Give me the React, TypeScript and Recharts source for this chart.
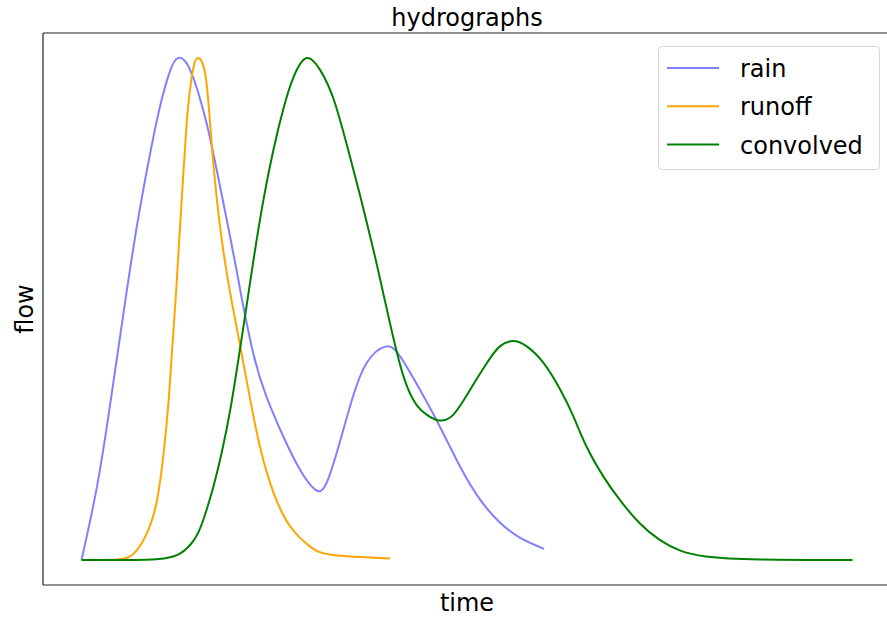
import React from "react"
import { LineChart, Line, XAxis, YAxis } from "recharts"

// values, time in steps, flow normalised to peak = 1
const rainTime = [0, 2, 3.8, 5.7, 7.4, 8.9, 10.2, 11.5, 12.5, 13.7, 15, 16.3, 17.6, 18.9, 20.2, 20.8, 22.3, 24, 26.2, 28.4, 30.3, 31.8, 33.6, 35.2, 37, 39.4, 41.3, 43.9, 46.5, 49.1, 51.7, 54.3, 56.9, 60]
const rainFlow = [0, 0.146, 0.319, 0.519, 0.685, 0.81, 0.905, 0.975, 1.0, 0.988, 0.938, 0.865, 0.772, 0.673, 0.57, 0.52, 0.41, 0.325, 0.245, 0.178, 0.14, 0.154, 0.24, 0.325, 0.393, 0.425, 0.406, 0.339, 0.265, 0.186, 0.12, 0.074, 0.044, 0.022]

const runoffTime = [0, 4.6, 6.8, 8.5, 9.8, 10.7, 11.3, 11.75, 12.2, 12.6, 13.0, 13.5, 13.9, 14.5, 15.1, 15.8, 16.3, 16.7, 17.2, 17.8, 18.4, 19.1, 19.7, 20.8, 21.9, 23.2, 24.9, 27.1, 29.7, 32.6, 40]
const runoffFlow = [0, 0.001, 0.013, 0.054, 0.12, 0.22, 0.319, 0.419, 0.519, 0.619, 0.72, 0.84, 0.915, 0.98, 1.0, 0.985, 0.938, 0.865, 0.772, 0.685, 0.615, 0.548, 0.497, 0.408, 0.318, 0.222, 0.134, 0.066, 0.026, 0.01, 0.003]

const convolvedTime = [0, 7.2, 10.7, 12.8, 14.6, 15.8, 17.1, 18.2, 19.3, 20.2, 21, 22.3, 23.6, 24.9, 26.2, 27.5, 29.2, 31, 32.7, 34.4, 36.1, 37.9, 39.2, 40.3, 41.3, 42.3, 43.5, 44.8, 46.3, 48.2, 50.4, 52.6, 54.3, 56, 57.7, 59.9, 62.1, 63.8, 65.5, 67.7, 69.8, 72.4, 75, 77.6, 81, 88, 100]
const convolvedFlow = [0, 0, 0.003, 0.013, 0.04, 0.08, 0.146, 0.215, 0.3, 0.385, 0.465, 0.597, 0.718, 0.818, 0.9, 0.962, 1.0, 0.975, 0.918, 0.828, 0.728, 0.615, 0.527, 0.452, 0.39, 0.343, 0.308, 0.289, 0.278, 0.289, 0.339, 0.393, 0.426, 0.436, 0.426, 0.393, 0.339, 0.286, 0.226, 0.166, 0.12, 0.073, 0.04, 0.019, 0.007, 0.001, 0]

const toPoints = (t: number[], q: number[]) => t.map((x, i) => ({ t: x, q: q[i] }))

const series = [
  { name: "rain", color: "#8080ff", data: toPoints(rainTime, rainFlow) },
  { name: "runoff", color: "#ffa500", data: toPoints(runoffTime, runoffFlow) },
  { name: "convolved", color: "#008000", data: toPoints(convolvedTime, convolvedFlow) },
]

const FONT = "'DejaVu Sans', Verdana, sans-serif"
const SPINE = "#222"

export default function App() {
  return (
    <div
      style={{
        position: "absolute",
        left: 0,
        top: 0,
        width: 887,
        height: 618,
        overflow: "hidden",
        background: "white",
      }}
    >
      <LineChart width={892} height={618} margin={{ top: 33, right: 1, bottom: 33, left: 43 }}>
        <XAxis dataKey="t" type="number" domain={[-5, 105]} allowDataOverflow hide />
        <YAxis type="number" domain={[-0.05, 1.05]} allowDataOverflow hide />
        {series.map((s) => (
          <Line
            key={s.name}
            name={s.name}
            data={s.data}
            dataKey="q"
            type="natural"
            stroke={s.color}
            strokeWidth={2}
            dot={false}
            activeDot={false}
            isAnimationActive={false}
          />
        ))}
      </LineChart>
      <svg
        width={887}
        height={618}
        style={{ position: "absolute", left: 0, top: 0, pointerEvents: "none" }}
        fontFamily={FONT}
      >
        {/* spines: left, top, bottom (right one falls outside the picture) */}
        <path d="M43 33 L43 585 M43 33 L887 33 M43 585 L887 585" stroke={SPINE} strokeWidth={1.2} fill="none" />
        <text x={467} y={26} fontSize={24} textAnchor="middle" fill="#000">
          hydrographs
        </text>
        <text x={467} y={611} fontSize={24} textAnchor="middle" fill="#000">
          time
        </text>
        <text
          x={0}
          y={0}
          fontSize={24}
          textAnchor="middle"
          fill="#000"
          transform="translate(33 309) rotate(-90)"
        >
          flow
        </text>
        <rect x={658.5} y={46.5} width={221} height={123} rx={4} fill="white" fillOpacity={0.8} stroke="#d6d6d6" />
        {series.map((s, i) => (
          <g key={s.name}>
            <line x1={667} x2={719} y1={68 + i * 38.3} y2={68 + i * 38.3} stroke={s.color} strokeWidth={2} />
            <text x={740} y={77 + i * 38.3} fontSize={24} fill="#000">
              {s.name}
            </text>
          </g>
        ))}
      </svg>
    </div>
  )
}
